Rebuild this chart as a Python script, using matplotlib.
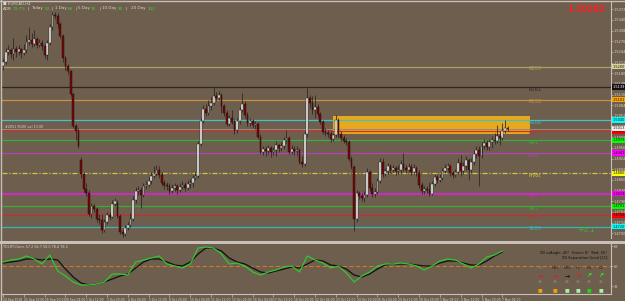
#!/usr/bin/env python3
"""EURCAD H4 chart with fib pivot levels, supply box and TDI sub window (MT4 look)."""
import matplotlib
matplotlib.use("Agg")
import matplotlib.pyplot as plt
from matplotlib.patches import Rectangle
from matplotlib.lines import Line2D
import numpy as np

W, H = 625, 301
BG = "#6d5e4e"
FG = "#ddd5cc"
EDGE = "#c8c0b8"
GREEN_TXT = "#3cd83c"

# ---- H4 candles (price) ----
OPEN = [1.5202, 1.5214, 1.5244, 1.5250, 1.5238, 1.5253, 1.5244, 1.5253, 1.5241, 1.5250,
        1.5274, 1.5280, 1.5268, 1.5283, 1.5265, 1.5271, 1.5262, 1.5235, 1.5271, 1.5319,
        1.5355, 1.5352, 1.5328, 1.5292, 1.5226, 1.5202, 1.5187, 1.5118, 1.5022, 1.5007,
        1.4920, 1.4878, 1.4833, 1.4821, 1.4758, 1.4782, 1.4773, 1.4743, 1.4740, 1.4710,
        1.4734, 1.4755, 1.4749, 1.4788, 1.4791, 1.4752, 1.4704, 1.4698, 1.4716, 1.4725,
        1.4743, 1.4800, 1.4827, 1.4830, 1.4815, 1.4842, 1.4845, 1.4857, 1.4872, 1.4878,
        1.4890, 1.4875, 1.4851, 1.4845, 1.4842, 1.4827, 1.4836, 1.4842, 1.4830, 1.4839,
        1.4845, 1.4836, 1.4848, 1.4851, 1.4866, 1.4872, 1.4968, 1.5037, 1.5073, 1.5061,
        1.5082, 1.5091, 1.5112, 1.5106, 1.5115, 1.5082, 1.5061, 1.5028, 1.5046, 1.5034,
        1.5010, 1.5037, 1.5070, 1.5088, 1.5055, 1.5031, 1.5037, 1.5025, 1.5028, 1.4989,
        1.4944, 1.4953, 1.4947, 1.4956, 1.4944, 1.4950, 1.4965, 1.4956, 1.4962, 1.4980,
        1.4986, 1.4944, 1.4953, 1.4947, 1.4950, 1.4914, 1.4908, 1.4998, 1.5106, 1.5091,
        1.5070, 1.5079, 1.5058, 1.5034, 1.5004, 1.5001, 1.4998, 1.4983, 1.4995, 1.5040,
        1.4998, 1.4986, 1.4977, 1.4974, 1.4923, 1.4899, 1.4743, 1.4821, 1.4812, 1.4806,
        1.4815, 1.4884, 1.4836, 1.4818, 1.4824, 1.4857, 1.4914, 1.4878, 1.4887, 1.4902,
        1.4890, 1.4896, 1.4887, 1.4890, 1.4908, 1.4896, 1.4890, 1.4899, 1.4884, 1.4896,
        1.4881, 1.4845, 1.4827, 1.4833, 1.4830, 1.4818, 1.4848, 1.4869, 1.4860, 1.4866,
        1.4887, 1.4896, 1.4902, 1.4881, 1.4875, 1.4884, 1.4911, 1.4887, 1.4902, 1.4920,
        1.4890, 1.4914, 1.4938, 1.4950, 1.4932, 1.4962, 1.4971, 1.4959, 1.4974, 1.4980,
        1.4977, 1.4992, 1.4986, 1.5007, 1.5016]
HIGH = [1.5226, 1.5256, 1.5265, 1.5256, 1.5286, 1.5262, 1.5265, 1.5256, 1.5268, 1.5295,
        1.5319, 1.5301, 1.5310, 1.5289, 1.5283, 1.5280, 1.5268, 1.5280, 1.5328, 1.5364,
        1.5364, 1.5361, 1.5334, 1.5298, 1.5232, 1.5208, 1.5190, 1.5121, 1.5028, 1.5016,
        1.4929, 1.4884, 1.4851, 1.4830, 1.4791, 1.4788, 1.4779, 1.4758, 1.4758, 1.4743,
        1.4764, 1.4764, 1.4800, 1.4806, 1.4800, 1.4758, 1.4713, 1.4725, 1.4734, 1.4761,
        1.4812, 1.4839, 1.4842, 1.4839, 1.4851, 1.4857, 1.4869, 1.4884, 1.4902, 1.4905,
        1.4902, 1.4884, 1.4860, 1.4854, 1.4851, 1.4848, 1.4851, 1.4848, 1.4851, 1.4857,
        1.4854, 1.4860, 1.4863, 1.4875, 1.4884, 1.4977, 1.5046, 1.5085, 1.5088, 1.5100,
        1.5109, 1.5139, 1.5124, 1.5127, 1.5121, 1.5088, 1.5070, 1.5055, 1.5070, 1.5043,
        1.5046, 1.5079, 1.5121, 1.5097, 1.5064, 1.5046, 1.5043, 1.5037, 1.5034, 1.4998,
        1.4962, 1.4962, 1.4965, 1.4962, 1.4959, 1.4977, 1.4968, 1.4974, 1.4989, 1.5010,
        1.4992, 1.4965, 1.4962, 1.4962, 1.4956, 1.4932, 1.5007, 1.5136, 1.5115, 1.5112,
        1.5115, 1.5088, 1.5064, 1.5040, 1.5016, 1.5010, 1.5007, 1.5004, 1.5055, 1.5046,
        1.5007, 1.4995, 1.4986, 1.4980, 1.4932, 1.4905, 1.4830, 1.4827, 1.4821, 1.4827,
        1.4896, 1.4890, 1.4851, 1.4836, 1.4866, 1.4926, 1.4926, 1.4896, 1.4911, 1.4908,
        1.4905, 1.4902, 1.4905, 1.4920, 1.4941, 1.4905, 1.4911, 1.4908, 1.4908, 1.4902,
        1.4890, 1.4854, 1.4842, 1.4842, 1.4854, 1.4857, 1.4878, 1.4875, 1.4878, 1.4896,
        1.4908, 1.4911, 1.4908, 1.4887, 1.4893, 1.4926, 1.4935, 1.4914, 1.4932, 1.4926,
        1.4926, 1.4950, 1.4962, 1.4962, 1.4974, 1.4983, 1.4980, 1.4983, 1.4992, 1.5001,
        1.5025, 1.5007, 1.5031, 1.5040, 1.5022]
LOW = [1.5190, 1.5208, 1.5235, 1.5226, 1.5220, 1.5229, 1.5235, 1.5226, 1.5235, 1.5241,
       1.5265, 1.5259, 1.5262, 1.5256, 1.5259, 1.5250, 1.5226, 1.5220, 1.5265, 1.5310,
       1.5343, 1.5316, 1.5286, 1.5214, 1.5190, 1.5178, 1.5112, 1.5016, 1.4980, 1.4956,
       1.4866, 1.4824, 1.4812, 1.4752, 1.4746, 1.4764, 1.4734, 1.4728, 1.4701, 1.4704,
       1.4728, 1.4740, 1.4746, 1.4782, 1.4746, 1.4698, 1.4689, 1.4692, 1.4710, 1.4719,
       1.4737, 1.4791, 1.4815, 1.4776, 1.4809, 1.4833, 1.4839, 1.4848, 1.4866, 1.4872,
       1.4866, 1.4842, 1.4833, 1.4830, 1.4818, 1.4821, 1.4827, 1.4818, 1.4824, 1.4833,
       1.4827, 1.4830, 1.4836, 1.4839, 1.4860, 1.4866, 1.4962, 1.5031, 1.5052, 1.5055,
       1.5070, 1.5085, 1.5097, 1.5100, 1.5061, 1.5052, 1.5022, 1.5022, 1.5028, 1.4998,
       1.5001, 1.5028, 1.5064, 1.5046, 1.5022, 1.5022, 1.5016, 1.5013, 1.4983, 1.4938,
       1.4935, 1.4932, 1.4938, 1.4929, 1.4935, 1.4932, 1.4944, 1.4947, 1.4953, 1.4971,
       1.4938, 1.4938, 1.4935, 1.4935, 1.4908, 1.4899, 1.4902, 1.4989, 1.5076, 1.5058,
       1.5046, 1.5049, 1.5028, 1.4998, 1.4992, 1.4989, 1.4974, 1.4977, 1.4989, 1.4989,
       1.4977, 1.4971, 1.4965, 1.4917, 1.4893, 1.4707, 1.4734, 1.4803, 1.4797, 1.4794,
       1.4809, 1.4827, 1.4809, 1.4809, 1.4818, 1.4851, 1.4869, 1.4872, 1.4878, 1.4881,
       1.4884, 1.4875, 1.4878, 1.4881, 1.4887, 1.4881, 1.4884, 1.4875, 1.4878, 1.4872,
       1.4836, 1.4818, 1.4818, 1.4821, 1.4812, 1.4815, 1.4842, 1.4851, 1.4854, 1.4860,
       1.4881, 1.4890, 1.4872, 1.4866, 1.4869, 1.4878, 1.4872, 1.4878, 1.4890, 1.4860,
       1.4884, 1.4905, 1.4926, 1.4842, 1.4926, 1.4953, 1.4950, 1.4950, 1.4956, 1.4968,
       1.4971, 1.4965, 1.4980, 1.5001, 1.5007]
CLOSE = [1.5214, 1.5244, 1.5250, 1.5238, 1.5253, 1.5244, 1.5253, 1.5241, 1.5250, 1.5274,
         1.5280, 1.5268, 1.5283, 1.5265, 1.5271, 1.5262, 1.5235, 1.5271, 1.5319, 1.5355,
         1.5352, 1.5328, 1.5292, 1.5226, 1.5202, 1.5187, 1.5118, 1.5022, 1.5007, 1.4962,
         1.4878, 1.4833, 1.4821, 1.4758, 1.4782, 1.4773, 1.4743, 1.4740, 1.4710, 1.4734,
         1.4755, 1.4749, 1.4788, 1.4797, 1.4752, 1.4704, 1.4698, 1.4716, 1.4725, 1.4743,
         1.4800, 1.4827, 1.4830, 1.4815, 1.4842, 1.4845, 1.4857, 1.4872, 1.4878, 1.4890,
         1.4875, 1.4851, 1.4845, 1.4842, 1.4827, 1.4836, 1.4842, 1.4830, 1.4839, 1.4845,
         1.4836, 1.4848, 1.4851, 1.4866, 1.4872, 1.4968, 1.5037, 1.5073, 1.5061, 1.5082,
         1.5091, 1.5112, 1.5106, 1.5115, 1.5082, 1.5061, 1.5028, 1.5046, 1.5034, 1.5010,
         1.5037, 1.5070, 1.5088, 1.5055, 1.5031, 1.5037, 1.5025, 1.5028, 1.4989, 1.4944,
         1.4953, 1.4947, 1.4956, 1.4944, 1.4950, 1.4965, 1.4956, 1.4962, 1.4980, 1.4986,
         1.4944, 1.4953, 1.4947, 1.4950, 1.4914, 1.4908, 1.4998, 1.5106, 1.5091, 1.5070,
         1.5079, 1.5058, 1.5034, 1.5004, 1.5001, 1.4998, 1.4983, 1.4995, 1.5040, 1.4998,
         1.4986, 1.4977, 1.4974, 1.4923, 1.4899, 1.4743, 1.4821, 1.4812, 1.4806, 1.4815,
         1.4884, 1.4836, 1.4818, 1.4824, 1.4857, 1.4914, 1.4878, 1.4887, 1.4902, 1.4890,
         1.4896, 1.4887, 1.4890, 1.4908, 1.4896, 1.4890, 1.4899, 1.4884, 1.4896, 1.4881,
         1.4845, 1.4827, 1.4833, 1.4830, 1.4818, 1.4848, 1.4869, 1.4860, 1.4866, 1.4887,
         1.4896, 1.4902, 1.4881, 1.4875, 1.4884, 1.4911, 1.4887, 1.4902, 1.4920, 1.4890,
         1.4914, 1.4938, 1.4950, 1.4932, 1.4962, 1.4971, 1.4959, 1.4974, 1.4980, 1.4977,
         1.4992, 1.4986, 1.5007, 1.5016, 1.5013]

# ---- fib pivot levels ----
LEVEL_NAMES = ["R200", "R161", "R138", "R100", "R76", "R61", "R38", "Pivot",
               "S38", "S61", "S76", "S100"]
LEVEL_PRICES = [1.5200, 1.5139, 1.5101, 1.5040, 1.5006, 1.4979, 1.4941, 1.4880,
                1.4819, 1.4781, 1.4754, 1.4720]
LEVEL_COLORS = ["#aca060", "#2e2620", "#c8903c", "#3ec4c4", "#c83232", "#34b034",
                "#b840b8", "#d8c840", "#e020e0", "#34b034", "#c03030", "#3ab4b4"]
LEVEL_TAGS = ["#d8d49a", "#141010", "#ffa500", "#00ffff", "#ff0000", "#00ff00",
              "#ff00ff", "#ffff00", "#ff00ff", "#00ff00", "#ff0000", "#00ffff"]
MARK_LINE = 1.5013          # grey horizontal line with note
ZONE = (1.4998, 1.5052)     # supply box, price bottom / top
ZONE_START = 127            # candle index where the box starts
BID = "1.50282"

TIME_LABELS = ["24 Sep 2018", "25 Sep 12:00", "26 Sep 20:00", "28 Sep 04:00", "1 Oct 12:00",
               "2 Oct 20:00", "4 Oct 04:00", "5 Oct 12:00", "8 Oct 20:00", "10 Oct 04:00",
               "11 Oct 12:00", "12 Oct 20:00", "16 Oct 04:00", "17 Oct 12:00", "18 Oct 20:00",
               "22 Oct 04:00", "23 Oct 12:00", "24 Oct 20:00", "26 Oct 04:00", "29 Oct 12:00",
               "30 Oct 20:00", "1 Nov 04:00", "2 Nov 12:00", "5 Nov 20:00", "7 Nov 04:00"]

# ---- TDI, one value every third candle ----
TDI_GREEN = [53.6, 55.4, 56.3, 59.0, 56.3, 51.8, 59.9, 45.5, 41.0, 35.6,
             32.9, 32.9, 33.8, 35.6, 42.8, 42.8, 41.9, 53.6, 55.4, 57.2,
             59.0, 51.8, 50.0, 48.2, 51.8, 66.2, 67.1, 66.2, 60.8, 51.8,
             52.7, 50.0, 44.6, 41.9, 44.6, 46.4, 49.1, 50.0, 44.6, 59.0,
             55.4, 52.7, 48.2, 50.0, 43.7, 35.6, 41.0, 44.6, 50.0, 51.8,
             51.8, 52.7, 51.8, 50.0, 46.4, 50.0, 54.5, 56.3, 55.4, 51.8,
             48.2, 51.8, 58.1, 59.9, 63.5]
TDI_SIGNAL = [52.7, 53.6, 54.5, 56.3, 56.3, 55.4, 56.3, 55.4, 47.3, 40.1,
              34.7, 32.9, 33.8, 35.6, 38.3, 41.0, 42.8, 48.2, 53.6, 56.3,
              56.3, 53.6, 50.9, 50.0, 53.6, 60.8, 66.2, 66.2, 63.5, 57.2,
              53.6, 51.8, 48.2, 44.6, 43.7, 45.5, 47.3, 49.1, 48.2, 51.8,
              55.4, 54.5, 50.9, 50.0, 47.3, 41.9, 40.1, 42.8, 47.3, 50.9,
              51.8, 51.8, 51.8, 50.9, 50.0, 50.0, 52.7, 54.5, 54.5, 52.7,
              50.9, 50.9, 54.5, 59.0, 62.6]
TDI_TF = ["M5", "M15", "M30", "H1", "H4", "D1"]
TDI_ARROWS = ["\u2192", "\u2192", "\u2192", "\u2198", "\u2197", "\u2197"]
TDI_ARROW_COLORS = ["#ff1010", "#ff1010", "#101010", "#ff1010", "#20ff20", "#20ff20"]
TDI_BOX_COLORS = ["#f0a000", "#f0a000", "#a8f0a8", "#a8f0a8", "#10e010", "#a8f0a8"]


def px(x, y):
    """pixel position in the 625x301 frame -> figure fraction."""
    return x / W, 1 - y / H


def main() -> None:
    fig = plt.figure(figsize=(W / 100, H / 100), dpi=100, facecolor=BG)

    # main price window: pixels x 2..611, y 2..238
    ax = fig.add_axes([2 / W, 63 / H, 609 / W, 236 / H], facecolor=BG)
    ax.set_xlim(-0.4, 233.8)
    ax.set_ylim(1.4686, 1.5394)

    idx = np.arange(len(CLOSE))
    o, h, l, c = (np.array(v) for v in (OPEN, HIGH, LOW, CLOSE))
    up = c >= o

    ax.add_patch(Rectangle((ZONE_START, ZONE[0]), 202.5 - ZONE_START, ZONE[1] - ZONE[0],
                           facecolor="#e8a81c", edgecolor="none", zorder=1))
    for price, col, name in zip(LEVEL_PRICES, LEVEL_COLORS, LEVEL_NAMES):
        if name == "Pivot":
            ax.axhline(price, color=col, lw=0.9, ls=(0, (4, 1.5, 1, 1.5)), zorder=2)
        else:
            ax.axhline(price, color=col, lw=1.2 if name == "S38" else 0.9, zorder=2)
        ax.text(202, price - 0.00065, name, color=col, fontsize=3.6, va="center",
                ha="left", zorder=5)
    ax.axhline(MARK_LINE, color="#9a8a78", lw=0.7, zorder=2)

    ax.vlines(idx, l, h, color="#2a2420", lw=0.55, zorder=3)
    body_lo = np.minimum(o, c)
    body_h = np.maximum(np.abs(c - o), 0.00012)
    ax.bar(idx[up], body_h[up], bottom=body_lo[up], width=0.72, color="#f4f4f4",
           edgecolor="#1c1c1c", linewidth=0.3, zorder=4)
    ax.bar(idx[~up], body_h[~up], bottom=body_lo[~up], width=0.72, color="#7a0606",
           edgecolor="#1c0c0c", linewidth=0.3, zorder=4)

    # price scale on the right
    for side in ("top", "left", "bottom"):
        ax.spines[side].set_visible(False)
    ax.spines["right"].set_color(EDGE)
    ax.spines["right"].set_linewidth(0.8)
    ax.set_xticks([])
    ticks = np.arange(1.4700, 1.5394, 0.0032)
    ax.set_yticks(ticks)
    ax.set_yticklabels([f"{t:.4f}" for t in ticks])
    ax.yaxis.tick_right()
    ax.tick_params(axis="y", labelsize=2.5, colors=FG, length=1.2, width=0.4, pad=0.8)

    for price, tag in zip(LEVEL_PRICES, LEVEL_TAGS):
        ax.text(1.003, price, f"{price:.4f}", transform=ax.get_yaxis_transform(),
                fontsize=2.5, color="white" if tag == "#141010" else "#101010",
                va="center", ha="left", clip_on=False, zorder=6,
                bbox=dict(boxstyle="square,pad=0.15", fc=tag, ec="none"))
    ax.text(1.003, MARK_LINE + 0.0002, f"{MARK_LINE:.4f}", transform=ax.get_yaxis_transform(),
            fontsize=2.5, color="#101010", va="center", ha="left", clip_on=False, zorder=6,
            bbox=dict(boxstyle="square,pad=0.15", fc="#f0f0f0", ec="none"))

    # texts in the price window
    fig.text(*px(3, 4), "\u25a0 EURCAD,H4", fontsize=2.8, color=FG, va="center")
    header = [(3, "ADR", FG), (13, "73.7%", GREEN_TXT), (27, "|", FG), (31, "Today", FG),
              (45, "53", GREEN_TXT), (52, "|", FG), (55, "1 Day", FG), (68, "66", GREEN_TXT),
              (75, "|", FG), (78, "5 Day", FG), (91, "76", GREEN_TXT), (99, "|", FG),
              (102, "10 Day", FG), (118, "90", GREEN_TXT), (126, "|", FG),
              (131, "20 Day", FG), (148, "102", GREEN_TXT)]
    for x, s, col in header:
        fig.text(*px(x, 8.5), s, fontsize=3.0, color=col, va="center")
    fig.text(*px(5, 127), "#2051 R100 val 13.00", fontsize=2.4, color=FG, va="center")
    fig.text(*px(605, 10), BID, fontsize=6.0, color="#ff2020", ha="right", va="center",
             fontweight="bold")
    fig.text(*px(577, 230), "+0.1", fontsize=5.2, color="#30c030", va="center")

    # TDI window: pixels y 244..294
    ax2 = fig.add_axes([2 / W, 7 / H, 609 / W, 50 / H], facecolor=BG)
    ax2.set_xlim(-0.4, 233.8)
    ax2.set_ylim(24.8, 69.8)
    tdi_idx = np.arange(0, len(CLOSE), 3)
    ax2.axhline(50, color="#d07828", lw=0.8, ls=(0, (4, 2)))
    ax2.plot(tdi_idx, TDI_SIGNAL, color="#101010", lw=0.9)
    ax2.plot(tdi_idx, TDI_GREEN, color="#30c830", lw=0.9)
    for side in ("top", "left"):
        ax2.spines[side].set_visible(False)
    for side in ("right", "bottom"):
        ax2.spines[side].set_color(EDGE)
        ax2.spines[side].set_linewidth(0.8)
    ax2.set_yticks([68, 50, 32])
    ax2.set_yticklabels(["68", "50", "32"])
    ax2.yaxis.tick_right()
    ax2.tick_params(axis="y", labelsize=2.5, colors=FG, length=1.2, width=0.4, pad=0.8)
    ax2.set_xticks(np.arange(0, 8 * len(TIME_LABELS), 8))
    ax2.set_xticklabels(TIME_LABELS)
    ax2.tick_params(axis="x", labelsize=2.2, colors=FG, length=2, width=0.4, pad=0.6)
    for lab in ax2.get_xticklabels():
        lab.set_horizontalalignment("left")

    fig.text(*px(3, 247), "TDI-RT-Clone 57.2 56.7 50.0 78.4 78.2", fontsize=2.4,
             color=FG, va="center")
    fig.text(*px(607, 253), "TDI vsAngle: 40\u00b0  Green: 8\u00b0  Red: 55\u00b0",
             fontsize=2.6, color="#101010", ha="right", va="center")
    fig.text(*px(607, 258), "TDI Separation Good [11]", fontsize=2.6, color="#101010",
             ha="right", va="center")
    cols = [540, 555, 567, 578, 589, 601]
    for x, tf, arr, acol, bcol in zip(cols, TDI_TF, TDI_ARROWS, TDI_ARROW_COLORS,
                                      TDI_BOX_COLORS):
        fig.text(*px(x, 268), tf, fontsize=2.6, color="#2a2420" if tf != "M5" else "#8a7d70",
                 ha="center", va="center")
        fig.text(*px(x, 276), arr, fontsize=4.4, color=acol, ha="center", va="center",
                 fontweight="bold")
        fig.text(*px(x, 282), "\u25cf", fontsize=3.2, color="#847868", ha="center",
                 va="center")
        fig.text(*px(x, 290), "\u25a0", fontsize=3.6, color=bcol, ha="center", va="center")

    # window separator and frame
    fig.add_artist(Rectangle((0, 57 / H), 1, 3 / H, transform=fig.transFigure,
                             facecolor=EDGE, edgecolor="none"))
    fig.add_artist(Line2D([0, 1], [1 - 0.5 / H, 1 - 0.5 / H], transform=fig.transFigure,
                          color=EDGE, lw=1.0))
    fig.add_artist(Line2D([0.5 / W, 0.5 / W], [0, 1], transform=fig.transFigure,
                          color=EDGE, lw=1.0))

    fig.savefig("out.png", dpi=100, facecolor=BG)
    plt.close(fig)


if __name__ == "__main__":
    main()
